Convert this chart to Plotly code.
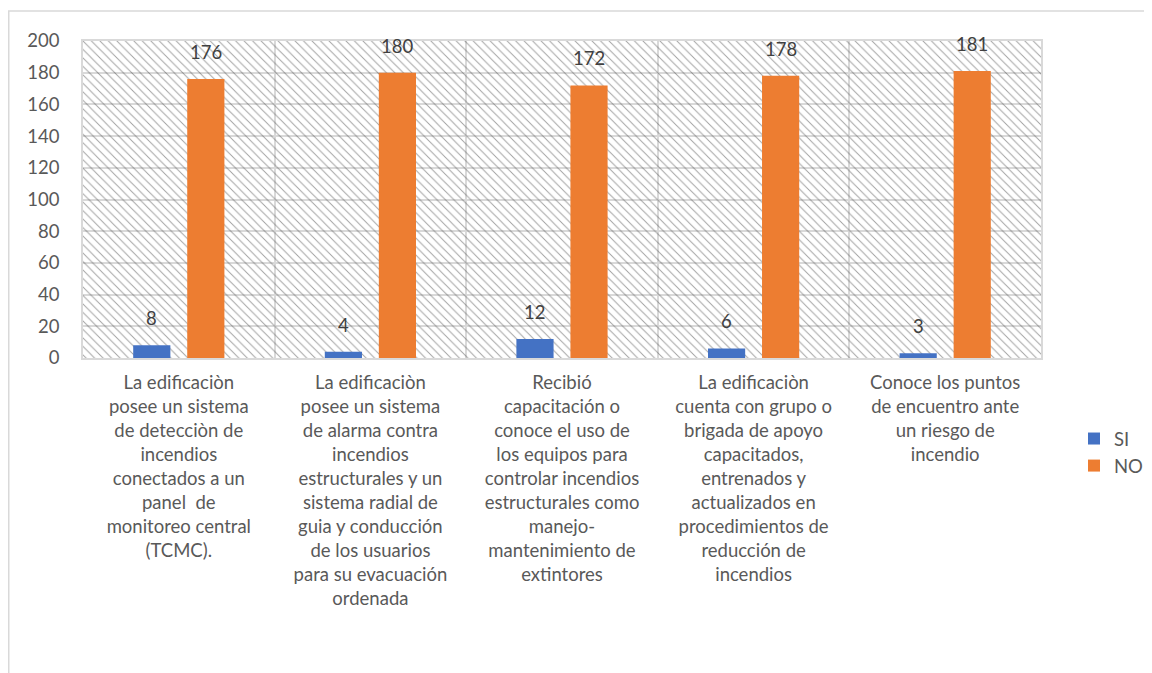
import plotly.graph_objects as go

categories = [
    "La edificaciòn<br>posee un sistema<br>de detecciòn de<br>incendios<br>conectados a un<br>panel  de<br>monitoreo central<br>(TCMC).",
    "La edificaciòn<br>posee un sistema<br>de alarma contra<br>incendios<br>estructurales y un<br>sistema radial de<br>guia y conducción<br>de los usuarios<br>para su evacuación<br>ordenada",
    "Recibió<br>capacitación o<br>conoce el uso de<br>los equipos para<br>controlar incendios<br>estructurales como<br>manejo-<br>mantenimiento de<br>extintores",
    "La edificaciòn<br>cuenta con grupo o<br>brigada de apoyo<br>capacitados,<br>entrenados y<br>actualizados en<br>procedimientos de<br>reducción de<br>incendios",
    "Conoce los puntos<br>de encuentro ante<br>un riesgo de<br>incendio",
]
si_values = [8, 4, 12, 6, 3]
no_values = [176, 180, 172, 178, 181]
y_max = 200

FONT = "Lato"
FS = 18.5
TXT = "#595959"
GRID = "#D9D9D9"

OFF = 8  # default page body margin
W, H = 1152 - OFF, 673 - OFF
L, T = 83 - OFF, 41 - OFF
R = W - (1041 - OFF)
B = H - (358 - OFF)
pw, ph = W - L - R, H - T - B


def px_x(x):
    return (x - OFF - L) / pw


def px_y(y):
    return 1 - (y - OFF - T) / ph


bar_w = 0.194
gap = 0.044

fig = go.Figure()
# hatched plot-area background
fig.add_trace(go.Bar(
    x=categories, y=[y_max] * len(categories), width=1, offset=-0.5,
    marker=dict(color="#d4d4d4", line=dict(width=0),
                pattern=dict(shape="\\", size=6, solidity=0.16, bgcolor="rgba(255,255,255,0)")),
    showlegend=False, hoverinfo="skip",
))
fig.add_trace(go.Bar(
    x=categories, y=si_values, name="SI", width=bar_w, offset=-gap - bar_w,
    marker=dict(color="#4472C4", line=dict(width=0)),
))
fig.add_trace(go.Bar(
    x=categories, y=no_values, name="NO", width=bar_w, offset=gap,
    marker=dict(color="#ED7D31", line=dict(width=0)),
))

annotations = []
for i, (s, n) in enumerate(zip(si_values, no_values)):
    for val, off in ((s, -gap - bar_w / 2), (n, gap + bar_w / 2)):
        annotations.append(dict(
            x=i + off, y=val, xref="x", yref="y", text=str(val), showarrow=False,
            yanchor="bottom", yshift=14, font=dict(family=FONT, size=FS, color="#404040"),
        ))

fig.update_layout(
    width=W, height=H,
    margin=dict(l=L, r=R, t=T, b=B, autoexpand=False),
    paper_bgcolor="white", plot_bgcolor="white",
    barmode="overlay",
    font=dict(family=FONT, size=FS, color=TXT),
    annotations=annotations,
    legend=dict(x=px_x(1074), y=px_y(420), xanchor="left", yanchor="top",
                font=dict(family=FONT, size=FS, color=TXT), itemwidth=30,
                tracegroupgap=0, bgcolor="rgba(0,0,0,0)"),
    shapes=[dict(type="rect", xref="paper", yref="paper",
                 x0=(0.75 - L) / pw, x1=px_x(1175),
                 y0=px_y(700), y1=px_y(11),
                 line=dict(color=GRID, width=1.5), layer="below")],
)
fig.update_xaxes(
    type="category", tickson="boundaries", showgrid=True, gridcolor=GRID, gridwidth=1.5,
    showline=True, linecolor=GRID, linewidth=1.5, mirror=True, ticks="",
    tickfont=dict(family=FONT, size=FS, color=TXT), ticklabelstandoff=7,
    range=[-0.5, len(categories) - 0.5], tickangle=0,
)
fig.update_yaxes(
    range=[0, y_max], dtick=20, showgrid=True, gridcolor=GRID, gridwidth=1.5,
    showline=True, linecolor=GRID, linewidth=1.5, mirror=True, ticks="", zeroline=False,
    tickfont=dict(family=FONT, size=FS, color=TXT), ticklabelstandoff=18,
)

fig.write_html("out.html")
